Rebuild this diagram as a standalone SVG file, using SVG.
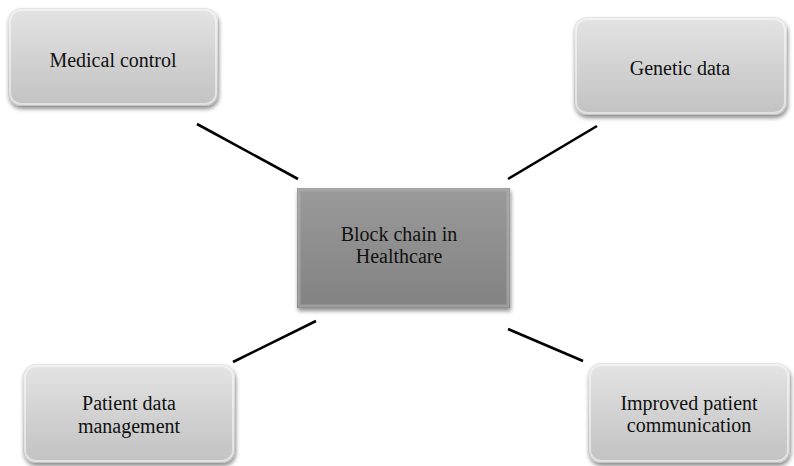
<svg xmlns="http://www.w3.org/2000/svg" width="794" height="466" viewBox="0 0 794 466">
<defs>
<linearGradient id="lg" x1="0" y1="0" x2="0" y2="1">
<stop offset="0" stop-color="#e4e4e4"/>
<stop offset="0.5" stop-color="#d2d2d2"/>
<stop offset="1" stop-color="#c2c2c2"/>
</linearGradient>
<linearGradient id="cg" x1="0" y1="0" x2="0" y2="1">
<stop offset="0" stop-color="#9a9a9a"/>
<stop offset="1" stop-color="#828282"/>
</linearGradient>
<filter id="sh" x="-10%" y="-10%" width="125%" height="130%">
<feGaussianBlur in="SourceAlpha" stdDeviation="2"/>
<feOffset dx="1" dy="3" result="b"/>
<feComponentTransfer><feFuncA type="linear" slope="0.45"/></feComponentTransfer>
<feMerge><feMergeNode/><feMergeNode in="SourceGraphic"/></feMerge>
</filter>
<style>
.lt{fill:url(#lg);filter:url(#sh)}
.in{fill:none;stroke:#ffffff;stroke-opacity:0.5;stroke-width:2}
.ct{fill:url(#cg);filter:url(#sh)}
.cin{fill:none;stroke:#b0b0b0;stroke-opacity:0.6;stroke-width:3}
text{font-size:20px;fill:#111;text-anchor:middle}
.cn line{stroke:#000;stroke-width:2.6;stroke-linecap:butt}
</style>
</defs>
<rect width="794" height="466" fill="#ffffff"/>
<g class="cn" id="connectors">
<line x1="197" y1="124" x2="298" y2="179"/>
<line x1="508" y1="179" x2="597" y2="126"/>
<line x1="233" y1="362" x2="316" y2="321"/>
<line x1="508" y1="329" x2="583" y2="361"/>
</g>
<g font-family="'Liberation Serif', 'Times New Roman', serif">
<g id="medical">
<rect class="lt" x="8" y="8" width="210" height="98" rx="13"/>
<rect class="in" x="10" y="10" width="206" height="94" rx="11"/>
<text x="113" y="67">Medical control</text>
</g>
<g id="genetic">
<rect class="lt" x="574" y="17" width="213" height="98" rx="13"/>
<rect class="in" x="576" y="19" width="209" height="94" rx="11"/>
<text x="680" y="75">Genetic data</text>
</g>
<g id="center">
<rect class="ct" x="297" y="188" width="213" height="120"/>
<rect class="cin" x="299" y="190" width="209" height="116"/>
<text x="399" y="241">Block chain in</text>
<text x="399" y="263">Healthcare</text>
</g>
<g id="patient">
<rect class="lt" x="23" y="364" width="212" height="99" rx="13"/>
<rect class="in" x="25" y="366" width="208" height="95" rx="11"/>
<text x="129" y="410">Patient data</text>
<text x="129" y="433">management</text>
</g>
<g id="improved">
<rect class="lt" x="588" y="363" width="202" height="100" rx="13"/>
<rect class="in" x="590" y="365" width="198" height="96" rx="11"/>
<text x="689" y="410">Improved patient</text>
<text x="689" y="432">communication</text>
</g>
</g>
</svg>
